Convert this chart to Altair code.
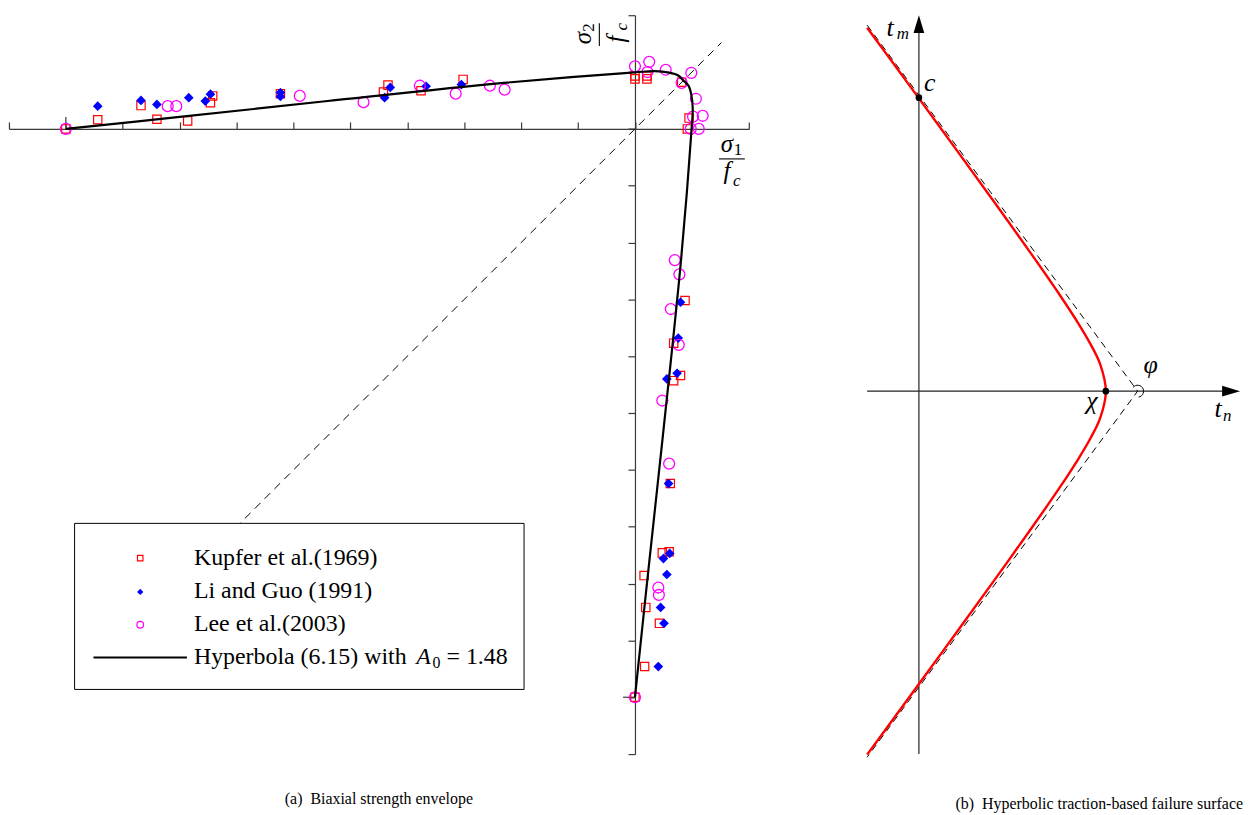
import altair as alt
import pandas as pd
import numpy as np

SERIF = "Liberation Serif"

# ---------------------------------------------------------------
# Panel (a): biaxial strength envelope, stresses normalised by f_c
# ---------------------------------------------------------------
S_MIN, S_MAX = -1.1, 0.2
TICK_VALUES = [-1.1, -1.0, -0.9, -0.8, -0.7, -0.6, -0.5, -0.4, -0.3, -0.2, -0.1, 0.0, 0.1, 0.2]
W_A, H_A = 744, 743
PX_X_A = W_A / (S_MAX - S_MIN)
PX_Y_A = H_A / (S_MAX - S_MIN)

# Kupfer et al. (1969)
kupfer_s1 = [-1.0, -0.944, -0.868, -0.840, -0.786, -0.746, -0.742, -0.623, -0.442, -0.434, -0.376, -0.302,
             0.0, 0.0, 0.021, 0.021, 0.082, 0.095, 0.092,
             0.088, 0.068, 0.080, 0.068, 0.062, 0.060, 0.048, 0.016, 0.019, 0.043, 0.017, 0.0]
kupfer_s2 = [0.0, 0.016, 0.041, 0.017, 0.014, 0.046, 0.058, 0.062, 0.065, 0.077, 0.067, 0.087,
             0.093, 0.088, 0.093, 0.088, 0.082, 0.019, 0.0,
             -0.302, -0.377, -0.434, -0.443, -0.624, -0.744, -0.746, -0.786, -0.842, -0.870, -0.946, -1.0]

# Li and Guo (1991)
li_s1 = [-0.944, -0.868, -0.840, -0.784, -0.755, -0.746, -0.623, -0.623, -0.440, -0.430, -0.367, -0.305,
         0.080, 0.076, 0.074, 0.056, 0.059, 0.061, 0.050, 0.056, 0.045, 0.051, 0.041]
li_s2 = [0.040, 0.050, 0.043, 0.055, 0.049, 0.061, 0.064, 0.057, 0.055, 0.073, 0.075, 0.078,
         -0.305, -0.368, -0.430, -0.440, -0.624, -0.747, -0.756, -0.784, -0.842, -0.870, -0.946]

# Lee et al. (2003)
lee_s1 = [-1.0, -0.821, -0.806, -0.589, -0.477, -0.378, -0.315, -0.255, -0.229,
          0.0, 0.025, 0.022, 0.054, 0.099, 0.082, 0.107, 0.119, 0.102, 0.112, 0.098,
          0.070, 0.078, 0.063, 0.077, 0.048, 0.060, 0.041, 0.042, 0.0]
lee_s2 = [0.0, 0.040, 0.040, 0.058, 0.047, 0.076, 0.062, 0.076, 0.069,
          0.110, 0.118, 0.100, 0.104, 0.0985, 0.081, 0.053, 0.023, 0.0215, 0.0, 0.0,
          -0.231, -0.256, -0.317, -0.380, -0.478, -0.589, -0.807, -0.820, -1.0]

# Hyperbolic envelope, A0 = 1.48
hyp_s1 = [-1.0, -0.8, -0.54, -0.23, 0.0, 0.035, 0.060, 0.076, 0.085,
          0.094, 0.099, 0.1015, 0.0995, 0.081, 0.049, 0.021, 0.0]
hyp_s2 = [0.0, 0.021, 0.049, 0.081, 0.0995, 0.1015, 0.099, 0.094, 0.085,
          0.076, 0.060, 0.035, 0.0, -0.23, -0.54, -0.8, -1.0]

# equal biaxial stress path
diag_s = [-0.72, 0.152]

sx_a = alt.Scale(domain=[S_MIN, S_MAX], nice=False, zero=False)
sy_a = alt.Scale(domain=[S_MIN, S_MAX], nice=False, zero=False)

AXIS_COLOR = "#3a3a3a"
ax_x_a = alt.Axis(orient="top", offset=-(S_MAX / (S_MAX - S_MIN)) * H_A, values=TICK_VALUES,
                  labels=False, title=None, grid=False, tickSize=7, tickWidth=1.2,
                  domainWidth=1.2, domainColor=AXIS_COLOR, tickColor=AXIS_COLOR)
ax_y_a = alt.Axis(orient="left", offset=-(-S_MIN / (S_MAX - S_MIN)) * W_A, values=TICK_VALUES,
                  labels=False, title=None, grid=False, tickSize=7, tickWidth=1.2,
                  domainWidth=1.2, domainColor=AXIS_COLOR, tickColor=AXIS_COLOR)

X_A = alt.X("s1:Q", scale=sx_a, axis=ax_x_a)
Y_A = alt.Y("s2:Q", scale=sy_a, axis=ax_y_a)

ONE = pd.DataFrame({"k": [0]})


def label(text, x, y, size, italic=True, angle=0, align="center", baseline="alphabetic"):
    return alt.Chart(ONE).mark_text(
        text=text, font=SERIF, fontSize=size, fontStyle="italic" if italic else "normal",
        angle=angle, align=align, baseline=baseline, color="black"
    ).encode(x=alt.value(x), y=alt.value(y))


def bar(x1, x2, y1, y2):
    return alt.Chart(ONE).mark_rule(color="black", strokeWidth=1.1).encode(
        x=alt.value(x1), x2=alt.value(x2), y=alt.value(y1), y2=alt.value(y2))


diag = alt.Chart(pd.DataFrame({"s1": diag_s, "s2": diag_s})).mark_line(
    color="black", strokeWidth=1, strokeDash=[8, 6]).encode(x=X_A, y=Y_A)

major = pd.DataFrame({"s1": [-1.0, 0.0], "s2": [0.0, -1.0],
                      "s1e": [-1.0, -12 / PX_X_A], "s2e": [12 / PX_Y_A, -1.0]})
major_ticks = alt.Chart(major).mark_rule(color=AXIS_COLOR, strokeWidth=1.2).encode(
    x=X_A, y=Y_A, x2="s1e:Q", y2="s2e:Q")

kupfer = alt.Chart(pd.DataFrame({"s1": kupfer_s1, "s2": kupfer_s2})).mark_point(
    shape="square", filled=False, color="#ff0000", size=70, strokeWidth=1.2, opacity=1
).encode(x=X_A, y=Y_A)
li = alt.Chart(pd.DataFrame({"s1": li_s1, "s2": li_s2})).mark_point(
    shape="diamond", filled=True, color="#0000ff", size=95, opacity=1
).encode(x=X_A, y=Y_A)
lee = alt.Chart(pd.DataFrame({"s1": lee_s1, "s2": lee_s2})).mark_point(
    shape="circle", filled=False, color="#ff00ff", size=120, strokeWidth=1.3, opacity=1
).encode(x=X_A, y=Y_A)

hyp = alt.Chart(pd.DataFrame({"s1": hyp_s1, "s2": hyp_s2, "i": range(len(hyp_s1))})).mark_line(
    color="black", strokeWidth=2.2, interpolate="catmull-rom"
).encode(x=X_A, y=Y_A, order="i:Q")

# legend box
legend_box = alt.Chart(ONE).mark_rect(fill="white", stroke="black", strokeWidth=1).encode(
    x=alt.value(66), x2=alt.value(518), y=alt.value(511), y2=alt.value(678))
leg_k = alt.Chart(ONE).mark_point(shape="square", filled=False, color="#ff0000", size=30,
                                  strokeWidth=1.2, opacity=1).encode(x=alt.value(132), y=alt.value(546))
leg_l = alt.Chart(ONE).mark_point(shape="diamond", filled=True, color="#0000ff", size=40,
                                  opacity=1).encode(x=alt.value(132), y=alt.value(580))
leg_e = alt.Chart(ONE).mark_point(shape="circle", filled=False, color="#ff00ff", size=45,
                                  strokeWidth=1.2, opacity=1).encode(x=alt.value(132), y=alt.value(613))
leg_line = alt.Chart(ONE).mark_rule(color="black", strokeWidth=2).encode(
    x=alt.value(85), x2=alt.value(179), y=alt.value(646))
LEG = 24
leg_texts = [
    label("Kupfer et al.(1969)", 186, 553, LEG, italic=False, align="left"),
    label("Li and Guo (1991)", 186, 586, LEG, italic=False, align="left"),
    label("Lee et al.(2003)", 186, 619, LEG, italic=False, align="left"),
    label("Hyperbola (6.15) with", 186, 652, LEG, italic=False, align="left"),
    label("A", 417, 652, LEG, italic=True),
    label("0", 430, 656, 16, italic=False),
    label("= 1.48", 440, 652, LEG, italic=False, align="left"),
]

# axis captions sigma_1/f_c and sigma_2/f_c
sig_labels = [
    label("σ", 722, 138, 25), label("1", 733, 141, 17, italic=False), bar(714, 740, 144.5, 144.5),
    label("f", 722, 165, 25), label("c", 732, 172, 17),
    label("σ", 585, 23, 25, angle=270), label("2", 588, 12.5, 17, italic=False, angle=270),
    bar(593.7, 593.7, 8, 31),
    label("f", 619, 24, 25, angle=270), label("c", 622, 11.5, 17, angle=270),
]

CAPTION = 16
panel_a = alt.layer(
    diag, major_ticks, kupfer, li, lee, hyp,
    legend_box, leg_k, leg_l, leg_e, leg_line, *leg_texts, *sig_labels
).properties(
    width=W_A, height=H_A,
    title=alt.TitleParams("(a)\u00a0\u00a0Biaxial strength envelope", orient="bottom", anchor="middle",
                          font=SERIF, fontSize=CAPTION, fontWeight="normal", color="black", offset=37)
)

# ---------------------------------------------------------------
# Panel (b): hyperbolic traction-based failure surface
# ---------------------------------------------------------------
TN_MIN, TN_MAX = -0.277, 1.718
TM_MIN, TM_MAX = -1.941, 2.011
W_B, H_B = 375, 743
PX_B = W_B / (TN_MAX - TN_MIN)

CHI = 1.0          # tensile strength, vertex of the hyperbola
C_TM = 1.57        # surface meets the t_m axis
ASYM_TN = 1.170    # asymptotes cross the t_n axis
TAN_PHI = 1.353    # slope of the asymptotes

# upper branch of the surface, mirrored for t_m < 0
surf_tn = [-0.277, -0.1, 0.0, 0.2, 0.4, 0.6, 0.75, 0.85, 0.92, 0.97, 1.0]
surf_tm = [1.944, 1.703, 1.566, 1.292, 1.016, 0.736, 0.520, 0.367, 0.248, 0.143, 0.0]

asym_tn = [TN_MIN, ASYM_TN, TN_MIN]
asym_tm = [TAN_PHI * (ASYM_TN - TN_MIN), 0.0, -TAN_PHI * (ASYM_TN - TN_MIN)]

sx_b = alt.Scale(domain=[TN_MIN, TN_MAX], nice=False, zero=False)
sy_b = alt.Scale(domain=[TM_MIN, TM_MAX], nice=False, zero=False)
X_B = alt.X("tn:Q", scale=sx_b, axis=None)
Y_B = alt.Y("tm:Q", scale=sy_b, axis=None)

ARROW_R = 9  # half-length of the arrow heads, px
axes_b = pd.DataFrame({"tn": [TN_MIN, 0.0], "tm": [0.0, TM_MIN],
                       "tn2": [TN_MAX - ARROW_R / PX_B, 0.0], "tm2": [0.0, TM_MAX - ARROW_R / PX_B]})
axis_lines_b = alt.Chart(axes_b).mark_rule(color="#222222", strokeWidth=1.2).encode(
    x=X_B, y=Y_B, x2="tn2:Q", y2="tm2:Q")
arrow_up = alt.Chart(pd.DataFrame({"tn": [0.0], "tm": [TM_MAX - ARROW_R / PX_B]})).mark_point(
    shape="M0,-1L0.6,1L-0.6,1Z", filled=True, color="black", size=(2 * ARROW_R) ** 2, opacity=1
).encode(x=X_B, y=Y_B)
arrow_right = alt.Chart(pd.DataFrame({"tn": [TN_MAX - ARROW_R / PX_B], "tm": [0.0]})).mark_point(
    shape="M1,0L-1,-0.6L-1,0.6Z", filled=True, color="black", size=(2 * ARROW_R) ** 2, opacity=1
).encode(x=X_B, y=Y_B)

asym = alt.Chart(pd.DataFrame({"tn": asym_tn, "tm": asym_tm, "i": [0, 1, 2]})).mark_line(
    color="black", strokeWidth=1, strokeDash=[7, 5]).encode(x=X_B, y=Y_B, order="i:Q")

path_tn = surf_tn + surf_tn[-2::-1]
path_tm = surf_tm + [-v for v in surf_tm[-2::-1]]
surface = alt.Chart(pd.DataFrame({"tn": path_tn, "tm": path_tm, "i": range(len(path_tn))})).mark_line(
    color="#ff0000", strokeWidth=2.4, interpolate="catmull-rom"
).encode(x=X_B, y=Y_B, order="i:Q")

dots = alt.Chart(pd.DataFrame({"tn": [0.0, CHI], "tm": [C_TM, 0.0]})).mark_point(
    shape="circle", filled=True, color="black", size=45, opacity=1).encode(x=X_B, y=Y_B)

# small arc marking the asymptote angle phi
arc_r = 6 / PX_B
arc_t = np.radians(np.linspace(140, -80, 16))
arc = alt.Chart(pd.DataFrame({"tn": ASYM_TN + arc_r * np.cos(arc_t),
                              "tm": arc_r * np.sin(arc_t),
                              "i": range(16)})).mark_line(
    color="black", strokeWidth=1).encode(x=X_B, y=Y_B, order="i:Q")

labels_b = [
    label("t", 23, 21, 26), label("m", 36, 24, 17),
    label("c", 63, 76, 26),
    label("χ", 226, 396, 26),
    label("φ", 285, 360, 26),
    label("t", 353, 404, 26), label("n", 362, 408, 17),
]

panel_b = alt.layer(
    axis_lines_b, arrow_up, arrow_right, asym, surface, dots, arc, *labels_b
).properties(
    width=W_B, height=H_B,
    title=alt.TitleParams("(b)\u00a0\u00a0Hyperbolic traction-based failure surface", orient="bottom",
                          anchor="end", font=SERIF, fontSize=CAPTION, fontWeight="normal", color="black",
                          offset=37, dx=3)
)

chart = alt.hconcat(panel_a, panel_b, spacing=113).properties(
    padding={"left": 8, "top": 12, "right": 5, "bottom": 5}
).configure_view(stroke=None)

chart.save("out.html", embed_options={"renderer": "svg", "actions": False})
